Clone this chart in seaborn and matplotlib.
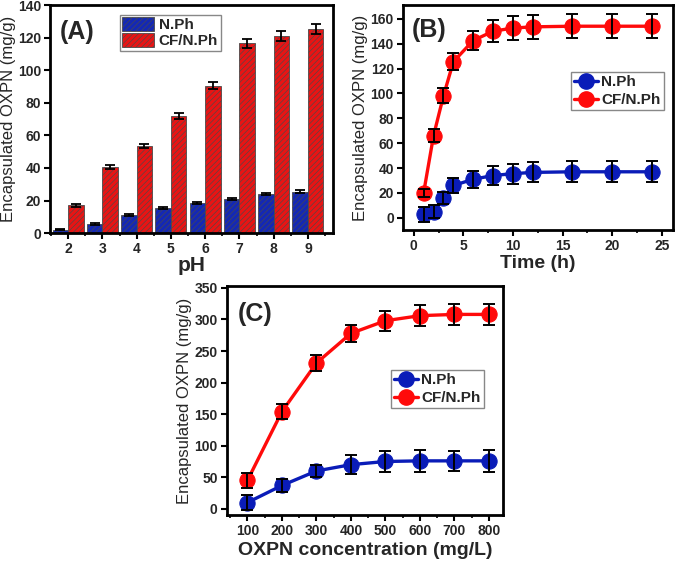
import numpy as np
import pandas as pd
import seaborn as sns
import matplotlib.pyplot as plt
from matplotlib.patches import Patch
from matplotlib.lines import Line2D
from matplotlib.ticker import MultipleLocator

sns.set_theme(style="ticks")
plt.rcParams['font.family'] = ['Liberation Sans', 'DejaVu Sans']
plt.rcParams['hatch.linewidth'] = 0.45

# (A) effect of pH
ph = ['2', '3', '4', '5', '6', '7', '8', '9']
nph_ph = [2, 5.5, 11, 15.5, 18.5, 21, 24, 25.5]
nph_ph_err = [0.4, 0.5, 0.6, 0.6, 0.8, 0.8, 0.8, 1.0]
cf_ph = [17, 40.5, 53.5, 72, 90.5, 116.5, 121, 125.5]
cf_ph_err = [0.8, 1.2, 1.5, 2.0, 2.2, 2.8, 3.0, 3.0]

# (B) effect of time
time_h = [1, 2, 3, 4, 6, 8, 10, 12, 16, 20, 24]
nph_t = [3, 5, 16, 26, 31, 34, 35.5, 36.5, 37, 37, 37]
nph_t_err = [6, 5, 5, 6, 7, 7.5, 8, 8, 8.5, 8.5, 8.5]
cf_t = [20, 66, 98, 125.5, 142.5, 150, 152.5, 153.5, 154, 154, 154]
cf_t_err = [3, 5, 6, 7, 8, 9, 9.5, 9.5, 9.5, 9.5, 9.5]

# (C) effect of OXPN concentration
conc = [100, 200, 300, 400, 500, 600, 700, 800]
nph_c = [10, 37, 60, 70, 75, 76, 76, 76]
nph_c_err = [12, 10, 10, 15, 16, 17, 16, 17]
cf_c = [45, 154, 231, 278, 298, 306, 308, 308]
cf_c_err = [12, 12, 12, 13, 16, 17, 17, 17]

labels = ['N.Ph', 'CF/N.Ph']
bar_cols = ['#1428b4', '#e81414']
line_cols = ['#0a1cb8', '#ff0a0a']

fig = plt.figure(figsize=(6.85, 5.63), dpi=100)
axA = fig.add_axes([0.073, 0.586, 0.413, 0.405])
axB = fig.add_axes([0.588, 0.591, 0.394, 0.400])
axC = fig.add_axes([0.331, 0.085, 0.403, 0.407])


def style_axis(ax):
    for s in ax.spines.values():
        s.set_linewidth(2)
        s.set_color('black')
    ax.tick_params(which='major', direction='out', width=1.5, length=4, pad=2.5,
                   labelsize=10, color='black')
    ax.tick_params(which='minor', direction='out', width=1.2, length=2.5, color='black')
    for t in ax.get_xticklabels() + ax.get_yticklabels():
        t.set_fontweight('bold')


# ---- (A) bars
dfA = pd.DataFrame({
    'pH': ph * 2,
    'value': nph_ph + cf_ph,
    'sample': [labels[0]] * len(ph) + [labels[1]] * len(ph),
})
sns.barplot(data=dfA, x='pH', y='value', hue='sample', order=ph, hue_order=labels,
            palette=bar_cols, saturation=1, width=0.9, errorbar=None,
            edgecolor='#4a4a4a', linewidth=0.6, legend=False, ax=axA)
for cont, err in zip(axA.containers, [nph_ph_err, cf_ph_err]):
    xs = [b.get_x() + b.get_width() / 2 for b in cont]
    ys = [b.get_height() for b in cont]
    for b in cont:
        b.set_hatch('//////')
    axA.errorbar(xs, ys, yerr=err, fmt='none', ecolor='black', elinewidth=1.3, capsize=3.5, capthick=1.3)
axA.set_ylim(0, 140)
axA.set_xlim(-0.53, 7.73)
axA.yaxis.set_major_locator(MultipleLocator(20))
axA.set_xticks(np.arange(-0.5, 8, 1), minor=True)
axA.set_xlabel('pH', fontsize=15, fontweight='bold', labelpad=0)
axA.set_ylabel('Encapsulated OXPN (mg/g)', fontsize=12, labelpad=1)
style_axis(axA)
axA.text(0.035, 0.88, '(A)', transform=axA.transAxes, fontsize=18, fontweight='bold', va='center')
hA = [Patch(facecolor=c, edgecolor='#4a4a4a', hatch='//////', linewidth=0.6) for c in bar_cols]
legA = axA.legend(hA, labels, loc='upper left', bbox_to_anchor=(0.247, 0.956), borderaxespad=0,
                  prop={'weight': 'bold', 'size': 11}, handlelength=2.1, handleheight=1.0,
                  handletextpad=0.3, labelspacing=0.05, borderpad=0.15, fancybox=False,
                  edgecolor='#888888', framealpha=1)


# ---- (B) & (C) line plots
def line_panel(ax, x, ys, errs):
    for y, e, c, lab in zip(ys, errs, line_cols, labels):
        sns.lineplot(x=x, y=y, color=c, lw=2.4, marker='o', markersize=11, markeredgecolor=c,
                     ax=ax, label=lab, legend=False)
        ax.errorbar(x, y, yerr=e, fmt='none', ecolor='black', elinewidth=1.4, capsize=4, capthick=1.4, zorder=5)


line_panel(axB, time_h, [nph_t, cf_t], [nph_t_err, cf_t_err])
axB.set_xlim(-1.1, 26.1)
axB.set_ylim(-10, 171)
axB.xaxis.set_major_locator(MultipleLocator(5))
axB.xaxis.set_minor_locator(MultipleLocator(2.5))
axB.yaxis.set_major_locator(MultipleLocator(20))
axB.set_xlabel('Time (h)', fontsize=14, fontweight='bold', labelpad=1)
axB.set_ylabel('Encapsulated OXPN (mg/g)', fontsize=12, labelpad=2)
style_axis(axB)
axB.text(0.033, 0.89, '(B)', transform=axB.transAxes, fontsize=18, fontweight='bold', va='center')

line_panel(axC, conc, [nph_c, cf_c], [nph_c_err, cf_c_err])
axC.set_xlim(40, 840)
axC.set_ylim(-10, 353)
axC.xaxis.set_major_locator(MultipleLocator(100))
axC.xaxis.set_minor_locator(MultipleLocator(50))
axC.yaxis.set_major_locator(MultipleLocator(50))
axC.set_xlabel('OXPN concentration (mg/L)', fontsize=14, fontweight='bold', labelpad=3)
axC.set_ylabel('Encapsulated OXPN (mg/g)', fontsize=12, labelpad=2)
style_axis(axC)
axC.text(0.04, 0.88, '(C)', transform=axC.transAxes, fontsize=18, fontweight='bold', va='center')

hL = [Line2D([], [], color=c, lw=2.4, marker='o', markersize=11) for c in line_cols]
for ax, anchor in [(axB, (0.622, 0.702)), (axC, (0.594, 0.633))]:
    ax.legend(hL, labels, loc='upper left', bbox_to_anchor=anchor, borderaxespad=0,
              prop={'weight': 'bold', 'size': 11}, handlelength=1.6, handletextpad=0.2,
              labelspacing=0.25, borderpad=0.2, fancybox=False, edgecolor='#888888', framealpha=1)

fig.savefig('out.png', dpi=100)
